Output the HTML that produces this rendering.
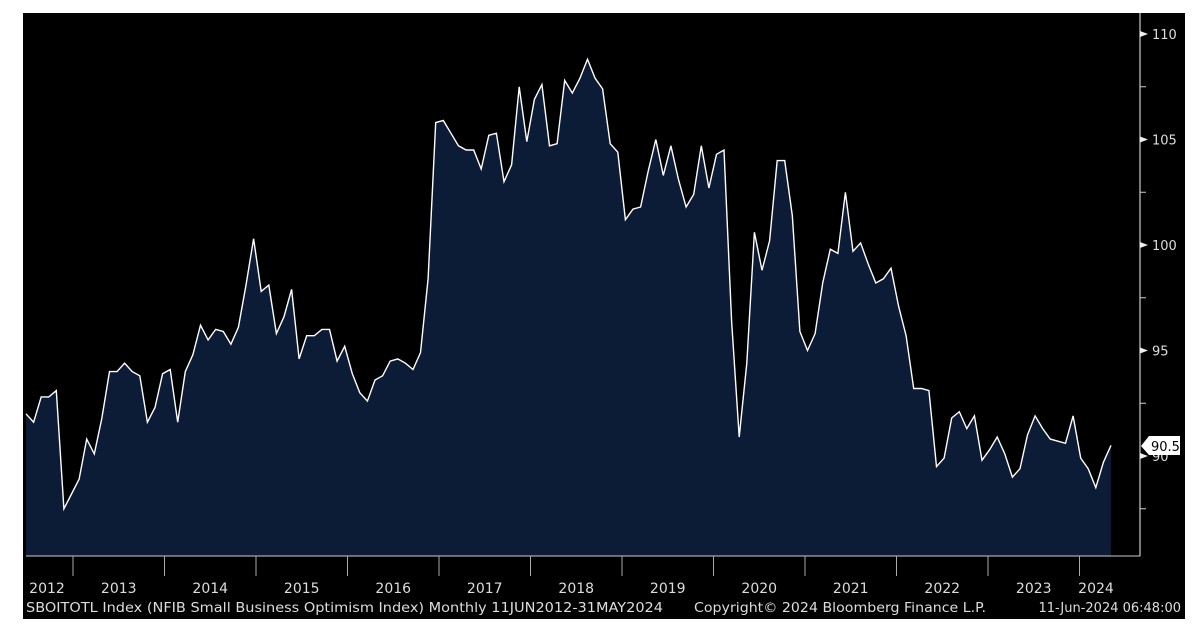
<!DOCTYPE html>
<html><head><meta charset="utf-8">
<style>
html,body{margin:0;padding:0;background:#fff;width:1200px;height:636px;overflow:hidden}
svg{position:absolute;left:0;top:0}
text{font-family:"DejaVu Sans","Liberation Sans",sans-serif;}
</style></head><body>
<svg id="c" width="1200" height="636" xmlns="http://www.w3.org/2000/svg">
<rect x="23" y="13" width="1162" height="606" fill="#000"/>
<g id="plot"></g>
<line x1="1140" y1="13" x2="1140" y2="556" stroke="#ccc" stroke-width="1.2"/>
<line x1="26" y1="556" x2="1140" y2="556" stroke="#ccc" stroke-width="1"/>
<g id="axes" fill="#ddd" font-size="13"></g>
<g font-size="13" fill="#ddd">
<text x="26" y="612" textLength="637" lengthAdjust="spacingAndGlyphs">SBOITOTL Index (NFIB Small Business Optimism Index)  Monthly 11JUN2012-31MAY2024</text>
<text x="694" y="612" textLength="292" lengthAdjust="spacingAndGlyphs">Copyright© 2024 Bloomberg Finance L.P.</text>
<text x="1181" y="612" text-anchor="end">11-Jun-2024 06:48:00</text>
</g>
<polygon points="1141,446 1149,436 1180,436 1180,455 1149,455" fill="#fff"/>
<text x="1151" y="451" font-size="13" fill="#000">90.5</text>
</svg>
<script>
var d=[92.0,91.6,92.8,92.8,93.1,87.5,88.2,
88.9,90.8,90.1,91.8,94.0,94.0,94.4,94.0,93.8,91.6,92.3,93.9,
94.1,91.6,94.0,94.8,96.2,95.5,96.0,95.9,95.3,96.1,98.1,100.3,
97.8,98.1,95.8,96.6,97.9,94.6,95.7,95.7,96.0,96.0,94.5,95.2,
93.9,93.0,92.6,93.6,93.8,94.5,94.6,94.4,94.1,94.9,98.4,105.8,
105.9,105.3,104.7,104.5,104.5,103.6,105.2,105.3,103.0,103.8,107.5,104.9,
106.9,107.6,104.7,104.8,107.8,107.2,107.9,108.8,107.9,107.4,104.8,104.4,
101.2,101.7,101.8,103.5,105.0,103.3,104.7,103.1,101.8,102.4,104.7,102.7,
104.3,104.5,96.4,90.9,94.4,100.6,98.8,100.2,104.0,104.0,101.4,95.9,
95.0,95.8,98.2,99.8,99.6,102.5,99.7,100.1,99.1,98.2,98.4,98.9,
97.1,95.7,93.2,93.2,93.1,89.5,89.9,91.8,92.1,91.3,91.9,89.8,
90.3,90.9,90.1,89.0,89.4,91.0,91.9,91.3,90.8,90.7,90.6,91.9,
89.9,89.4,88.5,89.7,90.5];
function Y(v){return 456-(v-90)*21.1}
var n=d.length,x0=26,x1=1111,pts=[];
for(var i=0;i<n;i++){pts.push((x0+(x1-x0)*i/(n-1)).toFixed(1)+","+Y(d[i]).toFixed(1));}
var ns="http://www.w3.org/2000/svg";
var g=document.getElementById("plot");
var poly=document.createElementNS(ns,"polygon");
poly.setAttribute("points",x0+",556 "+pts.join(" ")+" "+x1+",556");
poly.setAttribute("fill","#0c1b36");g.appendChild(poly);
var pl=document.createElementNS(ns,"polyline");
pl.setAttribute("points",pts.join(" "));pl.setAttribute("fill","none");
pl.setAttribute("stroke","#fff");pl.setAttribute("stroke-width","1.4");g.appendChild(pl);
var a=document.getElementById("axes"),h="";
for(var v=87.5;v<=110;v+=2.5){var y=Y(v);
 if(v%5==0){h+='<polygon points="1140,'+(y-3)+' 1148,'+y+' 1140,'+(y+3)+'" fill="#eee"/>';
  if(v!=90)h+='<text x="1152" y="'+(y+5)+'">'+v+'</text>';}
 else h+='<line x1="1140" y1="'+y+'" x2="1146" y2="'+y+'" stroke="#ccc"/>';}
h+='<text x="1152" y="461">90</text>';
for(var k=0;k<12;k++){var sx=73+k*91.5;
 h+='<line x1="'+sx+'" y1="556" x2="'+sx+'" y2="576" stroke="#aaa"/>';}
var yrs=[2012,2013,2014,2015,2016,2017,2018,2019,2020,2021,2022,2023,2024];
for(var k=0;k<13;k++){var cx=(k==0)?47:(k==12?1096:73+(k-1)*91.5+45.75);
 h+='<text x="'+cx+'" y="593" text-anchor="middle" font-size="14">'+yrs[k]+'</text>';}
a.innerHTML=h;
</script>
</body></html>
